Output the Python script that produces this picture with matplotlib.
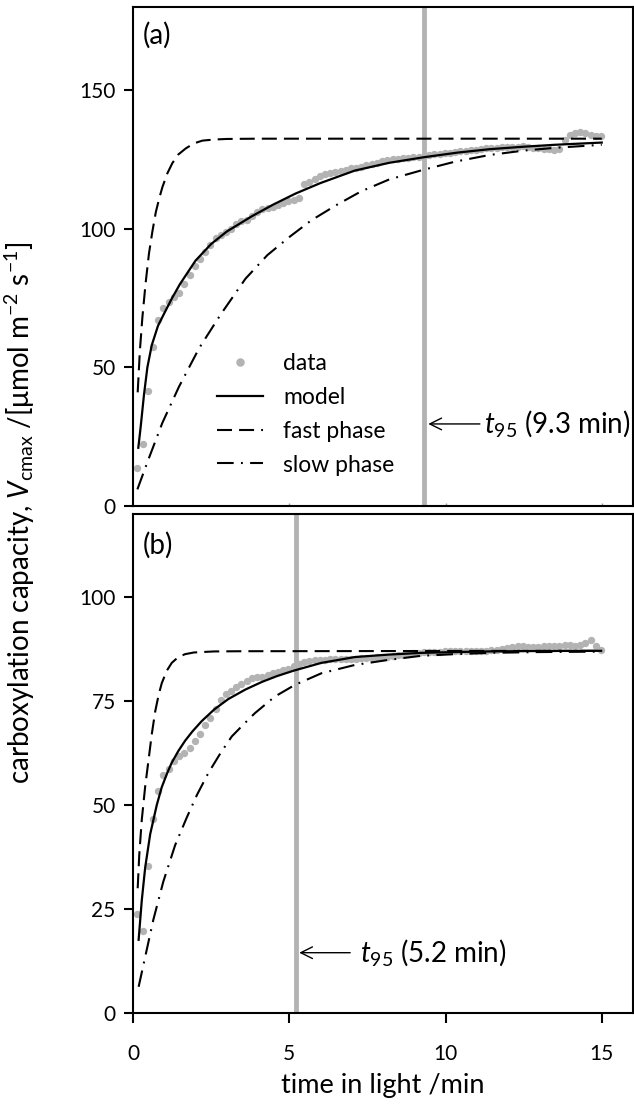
import matplotlib
matplotlib.use("Agg")
import matplotlib.pyplot as plt

plt.rcParams['font.family'] = ['Lato', 'DejaVu Sans']
plt.rcParams['mathtext.fontset'] = 'custom'
plt.rcParams['mathtext.rm'] = 'Lato'
plt.rcParams['mathtext.it'] = 'Lato:italic'

# sampling times of the measured points (min)
t_data = [0.14, 0.31, 0.47, 0.64, 0.81, 0.97, 1.14, 1.31, 1.47, 1.64, 1.81, 1.97,
          2.14, 2.31, 2.47, 2.64, 2.81, 2.97, 3.14, 3.31, 3.47, 3.64, 3.81, 3.97,
          4.14, 4.31, 4.47, 4.64, 4.81, 4.97, 5.14, 5.31, 5.47, 5.64, 5.81, 5.97,
          6.14, 6.31, 6.47, 6.64, 6.81, 6.97, 7.14, 7.31, 7.47, 7.64, 7.81, 7.97,
          8.14, 8.31, 8.47, 8.64, 8.81, 8.97, 9.14, 9.31, 9.47, 9.64, 9.81, 9.97,
          10.14, 10.31, 10.47, 10.64, 10.81, 10.97, 11.14, 11.31, 11.47, 11.64, 11.81, 11.97,
          12.14, 12.31, 12.47, 12.64, 12.81, 12.97, 13.14, 13.31, 13.47, 13.64, 13.81, 13.97,
          14.14, 14.31, 14.47, 14.64, 14.81, 14.97]

# (a) measured Vcmax
a_data = [13.8, 22.5, 41.5, 57.5, 67, 71.5, 73.5, 75.5, 77, 80, 83.5, 86.5,
          89, 91.5, 94, 96.5, 97.8, 99, 100, 101.8, 102.8, 103.3, 104.5, 106,
          107, 107.5, 108, 108.6, 109.2, 110, 110.5, 111.2, 116, 117, 118, 119,
          119.8, 120.2, 120.5, 121, 121.3, 121.8, 122, 122.4, 123, 123.5, 123.8, 124.3,
          124.8, 125, 125.2, 125.5, 125.4, 125.8, 126, 126.2, 126.5, 126.8, 127, 127.3,
          127.5, 127.8, 128, 128.2, 128.3, 128.5, 128.8, 129, 129.2, 129.3, 129.4, 129.5,
          129.6, 129.6, 129.7, 129.5, 129.2, 129, 128.8, 128.6, 128.5, 128.9, 132, 134,
          134.5, 135, 134.5, 134, 133.5, 133.3]

# (b) measured Vcmax
b_data = [23.8, 19.6, 35.4, 46.7, 53.3, 57.3, 58.6, 60.5, 61.8, 62.6, 63.8, 65.3,
          67.2, 69.2, 71, 73.2, 75.3, 76.6, 77.5, 78.5, 79.2, 79.9, 80.5, 80.7,
          80.9, 81.3, 81.8, 82.1, 82.4, 82.8, 83.4, 84, 84.3, 84.6, 84.8, 85,
          85, 85.1, 85.1, 85.2, 85.1, 85.1, 85.2, 85.3, 85.4, 85.4, 85.5, 85.6,
          85.6, 85.8, 86, 86.2, 86.3, 86.5, 86.6, 86.7, 86.8, 86.8, 86.9, 87,
          87, 87, 87, 87.1, 87, 87, 87, 87, 87.2, 87.4, 87.6, 87.8,
          88, 88.2, 88.2, 88.1, 88, 88.1, 88.2, 88.2, 88.2, 88.3, 88.4, 88.4,
          88.3, 88.5, 88.9, 89.6, 88.2, 87.4]

# (a) fitted curves
a_model_t = [0.17, 0.25, 0.35, 0.46, 0.6, 0.8, 1.0, 1.25, 1.5, 2.0, 2.5, 3.0, 3.8, 4.5,
             5.2, 6.0, 7.1, 8.2, 9.3, 10.4, 11.4, 12.5, 13.5, 15.0]
a_model = [21, 29, 40, 50, 58, 65, 69.5, 75, 80, 88.5, 94.5, 99, 104.5, 108.8,
           112.7, 116.5, 121, 123.8, 125.8, 127.5, 128.7, 129.6, 130.3, 131.1]
a_fast_t = [0.15, 0.22, 0.30, 0.40, 0.51, 0.62, 0.73, 0.84, 0.94, 1.1, 1.26, 1.45, 1.69,
            1.95, 2.22, 2.6, 3.0, 4.0, 15.0]
a_fast = [41, 56, 68, 80, 91, 99, 106, 111, 115, 120, 123.7, 126.8, 129,
          130.8, 131.8, 132.2, 132.4, 132.5, 132.5]
a_slow_t = [0.14, 0.5, 0.94, 1.47, 2.12, 2.8, 3.6, 4.3, 5.0, 5.7, 6.5, 7.3, 8.2, 9.3,
            10.3, 11.4, 12.5, 13.5, 15.0]
a_slow = [6, 17, 30, 43, 57, 69, 82, 90.5, 97, 103, 108.5, 113.5, 117.8, 121.3,
          124.2, 126.6, 128.2, 129.2, 130.3]

# (b) fitted curves
b_model_t = [0.18, 0.28, 0.39, 0.55, 0.76, 0.92, 1.1, 1.24, 1.45, 1.67, 1.9, 2.2, 2.6,
             3.05, 3.6, 4.12, 4.6, 5.13, 6.03, 7.1, 8.2, 9.22, 10.3, 11.36, 13.0, 14.98]
b_model = [17.6, 27, 35, 43, 50, 54.3, 57.8, 60.2, 63, 65.5, 67.7, 70.2, 73,
           75.5, 77.8, 79.6, 81, 82.3, 84.2, 85.6, 86.2, 86.6, 86.8, 86.95, 87.05, 87.1]
b_fast_t = [0.15, 0.2, 0.28, 0.39, 0.5, 0.6, 0.71, 0.82, 0.92, 1.08, 1.24, 1.45, 1.67,
            1.95, 2.2, 2.6, 3.5, 15.0]
b_fast = [30, 38, 46.4, 54.5, 61, 67, 72.5, 76.5, 79.3, 82.3, 84.2, 85.6, 86.3,
          86.7, 86.8, 86.95, 87.0, 87.1]
b_slow_t = [0.18, 0.39, 0.65, 0.97, 1.35, 1.72, 2.05, 2.41, 2.8, 3.16, 3.55, 3.9, 4.54,
            5.18, 6.03, 7.1, 8.16, 9.22, 10.3, 11.36, 13.0, 14.98]
b_slow = [6.3, 13.5, 22.4, 31.6, 40.4, 47, 52.5, 57.7, 62.5, 66.5, 69.5, 72.1, 76.1,
          78.9, 81.7, 83.7, 84.9, 85.9, 86.3, 86.6, 86.8, 86.9]

t95 = [9.3, 5.2]

grey = '#b3b3b3'
dash = (0, (7.2, 3.4))
dashdot = (0, (8, 3.5, 0.9, 3.5))

fig = plt.figure(figsize=(6.34, 11.06), dpi=100)
ax1 = fig.add_axes([133/634, 1 - 506/1106, 500/634, 499/1106])
ax2 = fig.add_axes([133/634, 1 - 1013/1106, 500/634, 499/1106])

panels = [
    (ax1, a_data, a_model_t, a_model, a_fast_t, a_fast, a_slow_t, a_slow, t95[0], 180),
    (ax2, b_data, b_model_t, b_model, b_fast_t, b_fast, b_slow_t, b_slow, t95[1], 120),
]
for ax, d, mt, m, ft, f, st, s, tt, ymax in panels:
    ax.axvline(tt, color=grey, lw=3.5, zorder=1)
    ax.plot(t_data, d, 'o', color=grey, ms=5.3, mec='none', label='data', zorder=2)
    ax.plot(mt, m, color='black', lw=1.6, label='model', zorder=3)
    ax.plot(ft, f, color='black', lw=1.5, linestyle=dash, label='fast phase', zorder=3)
    ax.plot(st, s, color='black', lw=1.5, linestyle=dashdot, label='slow phase', zorder=3)
    ax.set_xlim(0, 16)
    ax.set_ylim(0, ymax)
    for sp in ax.spines.values():
        sp.set_linewidth(1.5)
    ax.tick_params(axis='y', direction='out', length=6.5, width=1.5, labelsize=15, pad=6)

ax1.set_yticks([0, 50, 100, 150])
ax2.set_yticks([0, 25, 50, 75, 100])
ax1.set_xticks([5, 10, 15])
ax1.tick_params(axis='x', direction='in', length=2.5, width=1, color='#999999',
                labelbottom=False)
ax2.set_xticks([0, 5, 10, 15])
ax2.tick_params(axis='x', direction='out', length=7, width=1.5, labelsize=15, pad=15)
ax2.set_xlabel('time in light /min', fontsize=19.5, labelpad=7)

ax1.text(0.02, 0.944, '(a)', transform=ax1.transAxes, fontsize=20, va='center')
ax2.text(0.02, 0.938, '(b)', transform=ax2.transAxes, fontsize=20, va='center')

ax1.legend(loc='upper left', bbox_to_anchor=(0.168, 0.3066), frameon=False, fontsize=16.5,
           handlelength=2.0, handletextpad=0.9, labelspacing=0.56, borderpad=0,
           borderaxespad=0, markerscale=1.15)

arrow = dict(arrowstyle='->, head_length=0.7, head_width=0.35', lw=1, color='black',
             mutation_scale=12, shrinkA=0, shrinkB=0)
ax1.annotate('', xy=(9.45, 29.6), xytext=(11.1, 29.6), arrowprops=arrow)
ax1.text(11.22, 29.6, '$t_{95}$ (9.3 min)', fontsize=20, va='center', ha='left')
ax2.annotate('', xy=(5.32, 14.5), xytext=(6.95, 14.5), arrowprops=arrow)
ax2.text(7.25, 14.5, '$t_{95}$ (5.2 min)', fontsize=20, va='center', ha='left')

fig.text(20/634, 1 - 513/1106,
         'carboxylation capacity, $V_{\\rm cmax}$ /[μmol m$^{-2}$ s$^{-1}$]',
         rotation=90, fontsize=20, ha='center', va='center')

fig.savefig('out.png', dpi=100)
